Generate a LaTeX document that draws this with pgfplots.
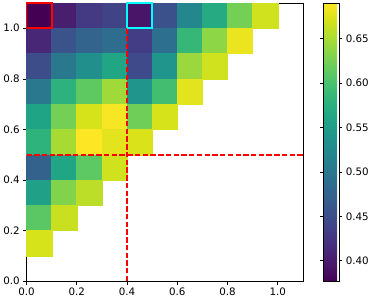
\documentclass[border=0pt]{standalone}
\usepackage{pgfplots}
\pgfplotsset{compat=1.18}
\usepackage{pgfplotstable}
\usepackage{fontspec}
\setmainfont{DejaVu Sans}
\definecolor{mplcyan}{RGB}{0,255,255}
\pgfplotstableread{
x y c
0.05 1.05 0.377
0.15 1.05 0.402
0.25 1.05 0.430
0.35 1.05 0.440
0.45 1.05 0.394
0.55 1.05 0.454
0.65 1.05 0.521
0.75 1.05 0.568
0.85 1.05 0.624
0.95 1.05 0.668
0.05 0.95 0.411
0.15 0.95 0.457
0.25 0.95 0.477
0.35 0.95 0.488
0.45 0.95 0.433
0.55 0.95 0.491
0.65 0.95 0.586
0.75 0.95 0.637
0.85 0.95 0.681
0.05 0.85 0.450
0.15 0.85 0.502
0.25 0.85 0.534
0.35 0.85 0.562
0.45 0.85 0.447
0.55 0.85 0.540
0.65 0.85 0.643
0.75 0.85 0.668
0.05 0.75 0.502
0.15 0.75 0.579
0.25 0.75 0.613
0.35 0.75 0.646
0.45 0.75 0.540
0.55 0.75 0.596
0.65 0.75 0.677
0.05 0.65 0.559
0.15 0.65 0.624
0.25 0.65 0.671
0.35 0.65 0.687
0.45 0.65 0.621
0.55 0.65 0.671
0.05 0.55 0.580
0.15 0.55 0.649
0.25 0.55 0.690
0.35 0.55 0.677
0.45 0.55 0.673
0.05 0.45 0.474
0.15 0.45 0.562
0.25 0.45 0.612
0.35 0.45 0.668
0.05 0.35 0.555
0.15 0.35 0.631
0.25 0.35 0.659
0.05 0.25 0.610
0.15 0.25 0.665
0.05 0.15 0.671
}\cells
\begin{document}
\begin{tikzpicture}
\begin{axis}[
  name=main,
  set layers=standard,
  scale only axis,
  width=282pt, height=284pt,
  xmin=0, xmax=1.1, ymin=0, ymax=1.1,
  xtick={0,0.2,0.4,0.6,0.8,1.0},
  ytick={0,0.2,0.4,0.6,0.8,1.0},
  xticklabel style={/pgf/number format/.cd, fixed, fixed zerofill, precision=1},
  yticklabel style={/pgf/number format/.cd, fixed, fixed zerofill, precision=1},
  /pgf/number format/assume math mode=true,
  tick align=outside,
  major tick length=3.5pt,
  tick style={black, line width=0.6pt},
  axis line style={line width=0.6pt},
  ticklabel style={font=\fontsize{10.5}{12}\selectfont},
  xtick pos=bottom, ytick pos=left,
  colormap name=viridis,
  point meta min=0.377, point meta max=0.690,
  colorbar,
  colorbar style={
    at={(parent axis.right of north east)}, anchor=north west,
    xshift=12pt, width=16pt,
    ytick={0.40,0.45,0.50,0.55,0.60,0.65},
    yticklabel style={/pgf/number format/.cd, fixed, fixed zerofill, precision=2},
    /pgf/number format/assume math mode=true,
    ticklabel style={font=\fontsize{10.5}{12}\selectfont},
    tick align=outside, major tick length=3.5pt,
    tick style={black, line width=0.6pt},
    axis line style={line width=0.6pt},
  },
  clip=true,
]
\addplot[scatter, only marks, mark=square*, mark size=12.9pt,
  scatter/use mapped color={draw=mapped color, fill=mapped color},
  point meta=explicit] table[x=x, y=y, meta=c] {\cells};
\addplot[draw=red, line width=1.9pt, dash pattern=on 5.5pt off 2.4pt, no marks, on layer=axis foreground] coordinates {(0.4,0) (0.4,1.1)};
\addplot[draw=red, line width=1.9pt, dash pattern=on 5.5pt off 2.4pt, no marks, on layer=axis foreground] coordinates {(0,0.5) (1.1,0.5)};
\addplot[draw=red, line width=2pt, no marks, on layer=axis foreground] coordinates {(0,1.0) (0.1,1.0) (0.1,1.1) (0,1.1) (0,1.0)};
\addplot[draw=mplcyan, line width=2pt, no marks, on layer=axis foreground] coordinates {(0.4,1.0) (0.5,1.0) (0.5,1.1) (0.4,1.1) (0.4,1.0)};
\end{axis}
\path ([yshift=3pt]main.north) -- ([yshift=3pt]main.north east);
\end{tikzpicture}
\end{document}
